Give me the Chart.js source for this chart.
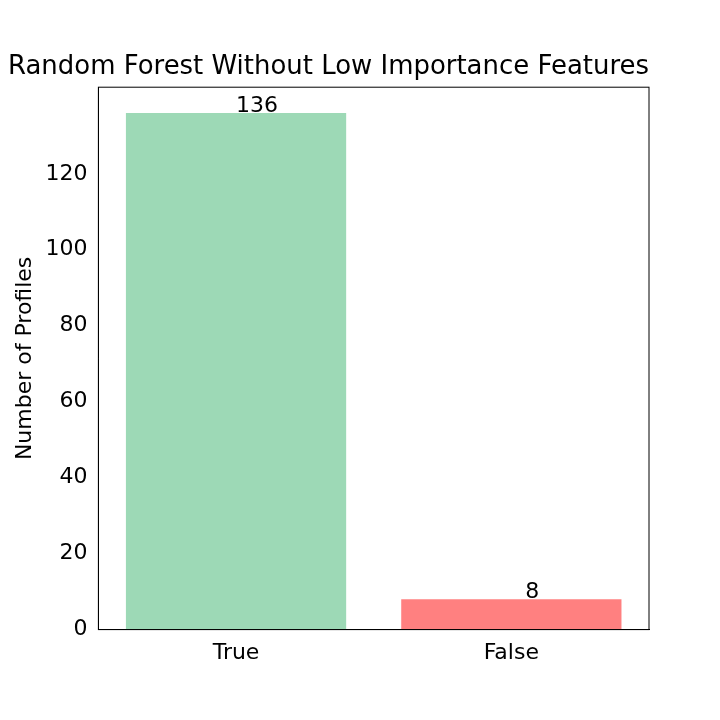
<!DOCTYPE html>
<html>
<head>
<script src="https://cdn.jsdelivr.net/npm/chart.js@4"></script>
<style>body{margin:0;background:#fff}#wrap{width:720px;height:720px}</style>
</head>
<body>
<div id="wrap"><canvas id="myChart"></canvas></div>
<script>
const categories = ["True", "False"];
const counts = [136, 8];
const barColors = ["rgba(157,217,182,1)", "rgba(255,128,128,1)"];

// valeurs au-dessus des barres
const barLabels = {
  id: "barLabels",
  afterDatasetsDraw(chart) {
    const ctx = chart.ctx;
    ctx.save();
    ctx.font = "22px 'DejaVu Sans'";
    ctx.fillStyle = "#000";
    ctx.textAlign = "center";
    ctx.textBaseline = "bottom";
    chart.getDatasetMeta(0).data.forEach((bar, i) => {
      ctx.fillText(counts[i], bar.x + 21, bar.y + 4);
    });
    ctx.restore();
  }
};

Chart.defaults.font.family = "'DejaVu Sans'";
Chart.defaults.color = "#000";

new Chart(document.getElementById("myChart").getContext("2d"), {
  type: "bar",
  data: {
    labels: categories,
    datasets: [{ data: counts, backgroundColor: barColors, barPercentage: 0.8, categoryPercentage: 1.0 }]
  },
  options: {
    responsive: true,
    maintainAspectRatio: false,
    animation: false,
    layout: { padding: { top: 52, right: 71, bottom: 52, left: 8 } },
    plugins: {
      legend: { display: false },
      tooltip: { enabled: false },
      title: { display: true, text: "Random Forest Without Low Importance Features", font: { size: 26, weight: "normal" }, padding: { top: 0, bottom: 4 }, align: "center" }
    },
    scales: {
      x: {
        offset: true,
        grid: { display: false, drawTicks: true },
        border: { color: "#000" },
        ticks: { font: { size: 22 }, padding: 2 }
      },
      y: {
        min: 0, max: 142.8,
        afterBuildTicks(axis) { axis.ticks = axis.ticks.filter(t => t.value % 20 === 0); },
        grid: { display: false },
        border: { color: "#000" },
        ticks: { stepSize: 20, font: { size: 22 } },
        title: { display: true, text: "Number of Profiles", font: { size: 22 } }
      }
    }
  },
  plugins: [barLabels, {
    id: "frame",
    afterDraw(chart) {
      const a = chart.chartArea, ctx = chart.ctx;
      ctx.save(); ctx.strokeStyle = "#000"; ctx.lineWidth = 1;
      ctx.strokeRect(a.left, a.top, a.right - a.left, a.bottom - a.top);
      ctx.restore();
    }
  }]
});
</script>
</body>
</html>
